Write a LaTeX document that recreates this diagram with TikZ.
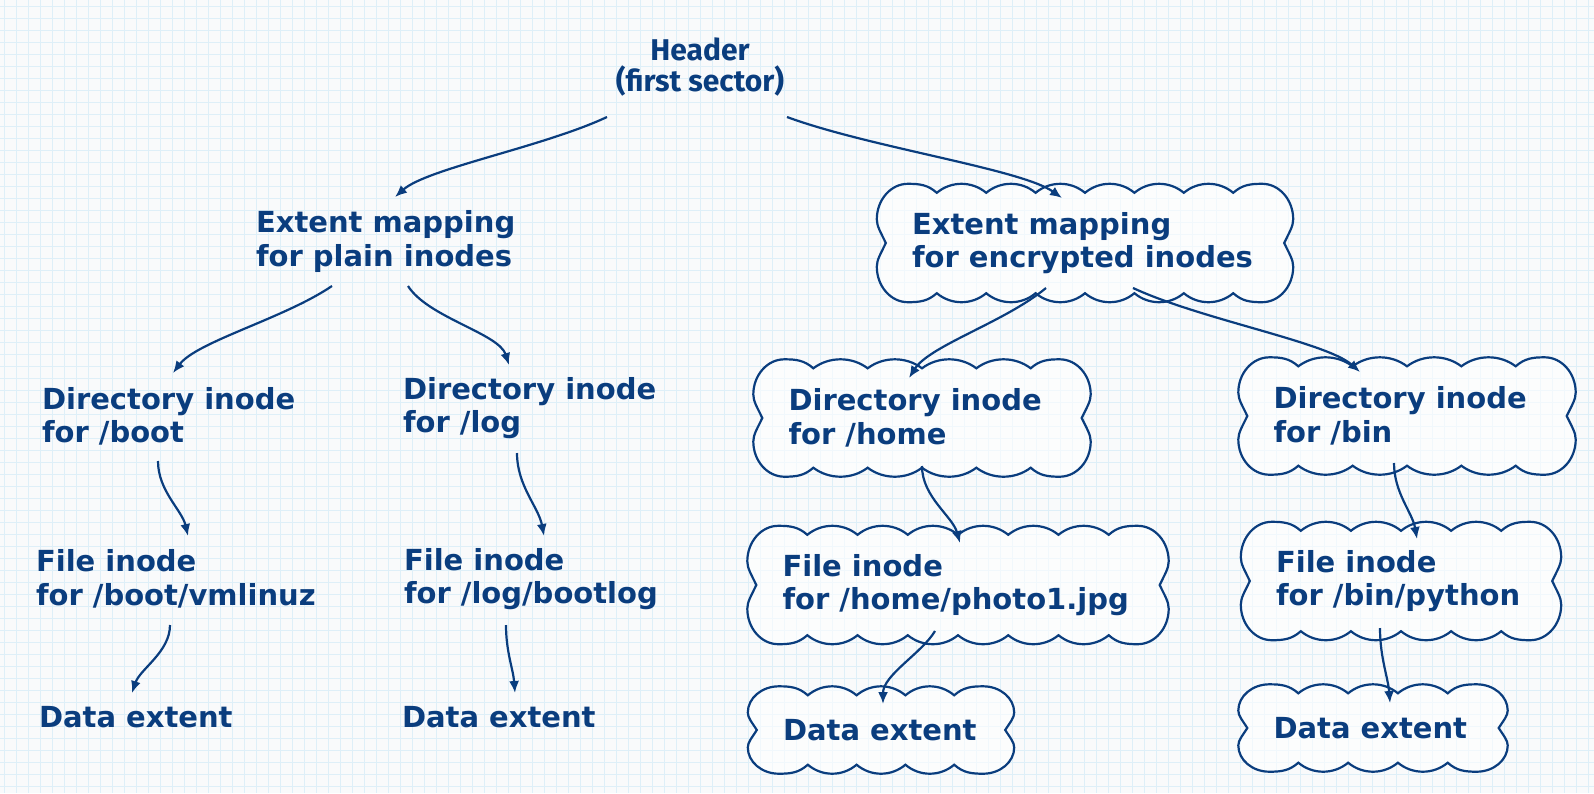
\documentclass[tikz,border=0pt]{standalone}
\usepackage{fontspec}
\setmainfont{DejaVu Sans}
\newfontfamily\headfont{Fira Sans}
\usepackage{tikz}
\usetikzlibrary{arrows.meta}
\usetikzlibrary{backgrounds}

\definecolor{inkblue}{RGB}{10,61,126}
\definecolor{paper}{RGB}{249,250,251}
\definecolor{gridblue}{RGB}{222,239,248}

\tikzset{
   label text/.style={
      text=inkblue,
      font=\fontsize{29}{33.5}\selectfont\bfseries,
      align=flush left,
      inner xsep=38pt,
      inner ysep=0pt,
      text width=300pt
   },
   cloud text/.style={label text, inner xsep=35pt, minimum height=#1},
   cloud line/.style={draw=inkblue, line width=2.2pt, fill=white, fill opacity=0.6},
   grid line/.style={draw=gridblue, line width=0.8pt},
   flow/.style={draw=inkblue, line width=2.2pt, -{Latex[length=12pt,width=10pt]}}
}

% scalloped outline round a node
\newcommand\cloudshape[1]{%
   \pgfpointanchor{#1}{north west}\pgfgetlastxy{\cloudx}{\cloudy}%
   \pgfmathsetmacro\cloudL{\cloudx}\pgfmathsetmacro\cloudT{\cloudy}%
   \pgfpointanchor{#1}{south east}\pgfgetlastxy{\cloudx}{\cloudy}%
   \pgfmathsetmacro\cloudR{\cloudx}\pgfmathsetmacro\cloudB{\cloudy}%
   \pgfmathsetmacro\cloudM{(\cloudT+\cloudB)/2}%
   \pgfmathsetmacro\cloudH{\cloudT-\cloudB}%
   \pgfmathtruncatemacro\cloudN{max(1,round((\cloudR-\cloudL-120)/50))}%
   \pgfmathsetmacro\cloudW{(\cloudR-\cloudL-120)/\cloudN}%
   \path[cloud line, x=1pt, y=1pt]
   ({\cloudL+9},{\cloudM})
   .. controls ({\cloudL+4},{\cloudM+0.09*\cloudH}) and ({\cloudL},{\cloudM+0.14*\cloudH})
   .. ({\cloudL},{\cloudM+0.2*\cloudH})
   .. controls ({\cloudL},{\cloudT-0.1345*\cloudH}) and ({\cloudL+14},{\cloudT})
   .. ({\cloudL+31},{\cloudT})
   .. controls ({\cloudL+43},{\cloudT}) and ({\cloudL+51},{\cloudT-1})
   .. ({\cloudL+60},{\cloudT-9})
   \foreach \i in {1,...,\cloudN} {
      .. controls ({\cloudL+60+(\i-1)*\cloudW+0.29*\cloudW},{\cloudT+3})
         and ({\cloudL+60+\i*\cloudW-0.29*\cloudW},{\cloudT+3})
      .. ({\cloudL+60+\i*\cloudW},{\cloudT-9})
   }
   .. controls ({\cloudR-51},{\cloudT-1}) and ({\cloudR-43},{\cloudT})
   .. ({\cloudR-31},{\cloudT})
   .. controls ({\cloudR-14},{\cloudT}) and ({\cloudR},{\cloudT-0.1345*\cloudH})
   .. ({\cloudR},{\cloudM+0.2*\cloudH})
   .. controls ({\cloudR},{\cloudM+0.14*\cloudH}) and ({\cloudR-4},{\cloudM+0.09*\cloudH})
   .. ({\cloudR-9},{\cloudM})
   .. controls ({\cloudR-4},{\cloudM-0.09*\cloudH}) and ({\cloudR},{\cloudM-0.14*\cloudH})
   .. ({\cloudR},{\cloudM-0.2*\cloudH})
   .. controls ({\cloudR},{\cloudB+0.1345*\cloudH}) and ({\cloudR-14},{\cloudB})
   .. ({\cloudR-31},{\cloudB})
   .. controls ({\cloudR-43},{\cloudB}) and ({\cloudR-51},{\cloudB+1})
   .. ({\cloudR-60},{\cloudB+9})
   \foreach \i in {1,...,\cloudN} {
      .. controls ({\cloudR-60-(\i-1)*\cloudW-0.29*\cloudW},{\cloudB-3})
         and ({\cloudR-60-\i*\cloudW+0.29*\cloudW},{\cloudB-3})
      .. ({\cloudR-60-\i*\cloudW},{\cloudB+9})
   }
   .. controls ({\cloudL+51},{\cloudB+1}) and ({\cloudL+43},{\cloudB})
   .. ({\cloudL+31},{\cloudB})
   .. controls ({\cloudL+14},{\cloudB}) and ({\cloudL},{\cloudB+0.1345*\cloudH})
   .. ({\cloudL},{\cloudM-0.2*\cloudH})
   .. controls ({\cloudL},{\cloudM-0.14*\cloudH}) and ({\cloudL+4},{\cloudM-0.09*\cloudH})
   .. ({\cloudL+9},{\cloudM}) -- cycle;
}

\begin{document}
\begin{tikzpicture}[x=1pt, y=-1pt]
   \useasboundingbox (0,0) rectangle (1594,793);

   \node[
      text=inkblue,
      font=\headfont\bfseries\fontsize{30}{30.5}\selectfont,
      align=center
   ] (header) at (700,67) {Header\\(first sector)};

   % extent mappings
   \node[label text] (plain) at (406,241.5) {Extent mapping\\for plain inodes};
   \node[cloud text=118pt, text width=346pt] (crypt) at (1085,243) {Extent mapping\\for encrypted inodes};

   % directories
   \node[label text] (boot) at (192,416.5) {Directory inode\\for /boot};
   \node[label text] (log) at (553,408) {Directory inode\\for /log};
   \node[cloud text=117pt, text width=267pt] (home) at (922,418) {Directory inode\\for /home};
   \node[cloud text=117pt, text width=267pt] (bin) at (1407,416) {Directory inode\\for /bin};

   % files
   \node[label text] (vmlinuz) at (186,579) {File inode\\for /boot/vmlinuz};
   \node[label text] (bootlog) at (554,579) {File inode\\for /log/bootlog};
   \node[cloud text=118pt, text width=351pt] (photo) at (958,585) {File inode\\for /home/photo1.jpg};
   \node[cloud text=118pt, text width=250pt] (python) at (1401,581) {File inode\\for /bin/python};

   % data
   \node[label text] (bootdata) at (189,717) {Data extent};
   \node[label text] (logdata) at (552,717) {Data extent};
   \node[cloud text=87pt, text width=196pt] (photodata) at (881,730) {Data extent};
   \node[cloud text=87pt, text width=199pt] (pythondata) at (1373,728) {Data extent};

   \begin{pgfonlayer}{background}
      \fill[paper] (0,0) rectangle (1594,793);
      \foreach \gx in {4,16,...,1594}
         \draw[grid line] (\gx,0) -- (\gx,793);
      \foreach \gy in {6,18,...,793}
         \draw[grid line] (0,\gy) -- (1594,\gy);
      \cloudshape{crypt}
      \cloudshape{home}
      \cloudshape{bin}
      \cloudshape{photo}
      \cloudshape{python}
      \cloudshape{photodata}
      \cloudshape{pythondata}
   \end{pgfonlayer}

   \draw[flow] ([shift={(-93,50)}]header.center)
      .. controls ([shift={(-157,80)}]header.center) and ([shift={(21,-73)}]plain.center)
      .. ([shift={(-11,-44.5)}]plain.center);
   \draw[flow] ([shift={(87,50)}]header.center)
      .. controls ([shift={(169.5,80.4)}]header.center) and ([shift={(-64,-74)}]crypt.center)
      .. ([shift={(-23,-45)}]crypt.center);

   \draw[flow] ([shift={(-74,44.5)}]plain.center)
      .. controls ([shift={(-122,77)}]plain.center) and ([shift={(5,-75)}]boot.center)
      .. ([shift={(-19,-43.5)}]boot.center);
   \draw[flow] ([shift={(2,44.5)}]plain.center)
      .. controls ([shift={(22,76)}]plain.center) and ([shift={(-54,-74.6)}]log.center)
      .. ([shift={(-44,-43)}]log.center);
   \draw[flow] ([shift={(-39,45)}]crypt.center)
      .. controls ([shift={(-80,79)}]crypt.center) and ([shift={(7.6,-72.4)}]home.center)
      .. ([shift={(-13,-40)}]home.center);
   \draw[flow] ([shift={(48,45)}]crypt.center)
      .. controls ([shift={(116,76.5)}]crypt.center) and ([shift={(-81,-74)}]bin.center)
      .. ([shift={(-47,-44)}]bin.center);

   \draw[flow] ([shift={(-34,44.5)}]boot.center)
      .. controls ([shift={(-34,74.5)}]boot.center) and ([shift={(-4,-69)}]vmlinuz.center)
      .. ([shift={(2,-43)}]vmlinuz.center);
   \draw[flow] ([shift={(-36,45)}]log.center)
      .. controls ([shift={(-36,78)}]log.center) and ([shift={(-15.4,-72)}]bootlog.center)
      .. ([shift={(-10,-43)}]bootlog.center);
   \draw[flow] ([shift={(0,48)}]home.center)
      .. controls ([shift={(0,79)}]home.center) and ([shift={(-5.6,-69)}]photo.center)
      .. ([shift={(2,-42)}]photo.center);
   \draw[flow] ([shift={(-13,47)}]bin.center)
      .. controls ([shift={(-13,77)}]bin.center) and ([shift={(11.4,-68.6)}]python.center)
      .. ([shift={(16,-42)}]python.center);

   \draw[flow] ([shift={(-16,46)}]vmlinuz.center)
      .. controls ([shift={(-16,73)}]vmlinuz.center) and ([shift={(-49,-48)}]bootdata.center)
      .. ([shift={(-57,-24)}]bootdata.center);
   \draw[flow] ([shift={(-48,46)}]bootlog.center)
      .. controls ([shift={(-48,73)}]bootlog.center) and ([shift={(-38.8,-47.8)}]logdata.center)
      .. ([shift={(-37,-24)}]logdata.center);
   \draw[flow] ([shift={(-23,46)}]photo.center)
      .. controls ([shift={(-36,68)}]photo.center) and ([shift={(2,-55)}]photodata.center)
      .. ([shift={(2,-26)}]photodata.center);
   \draw[flow] ([shift={(-21,47)}]python.center)
      .. controls ([shift={(-21,77)}]python.center) and ([shift={(15,-51)}]pythondata.center)
      .. ([shift={(17,-25)}]pythondata.center);
\end{tikzpicture}
\end{document}
